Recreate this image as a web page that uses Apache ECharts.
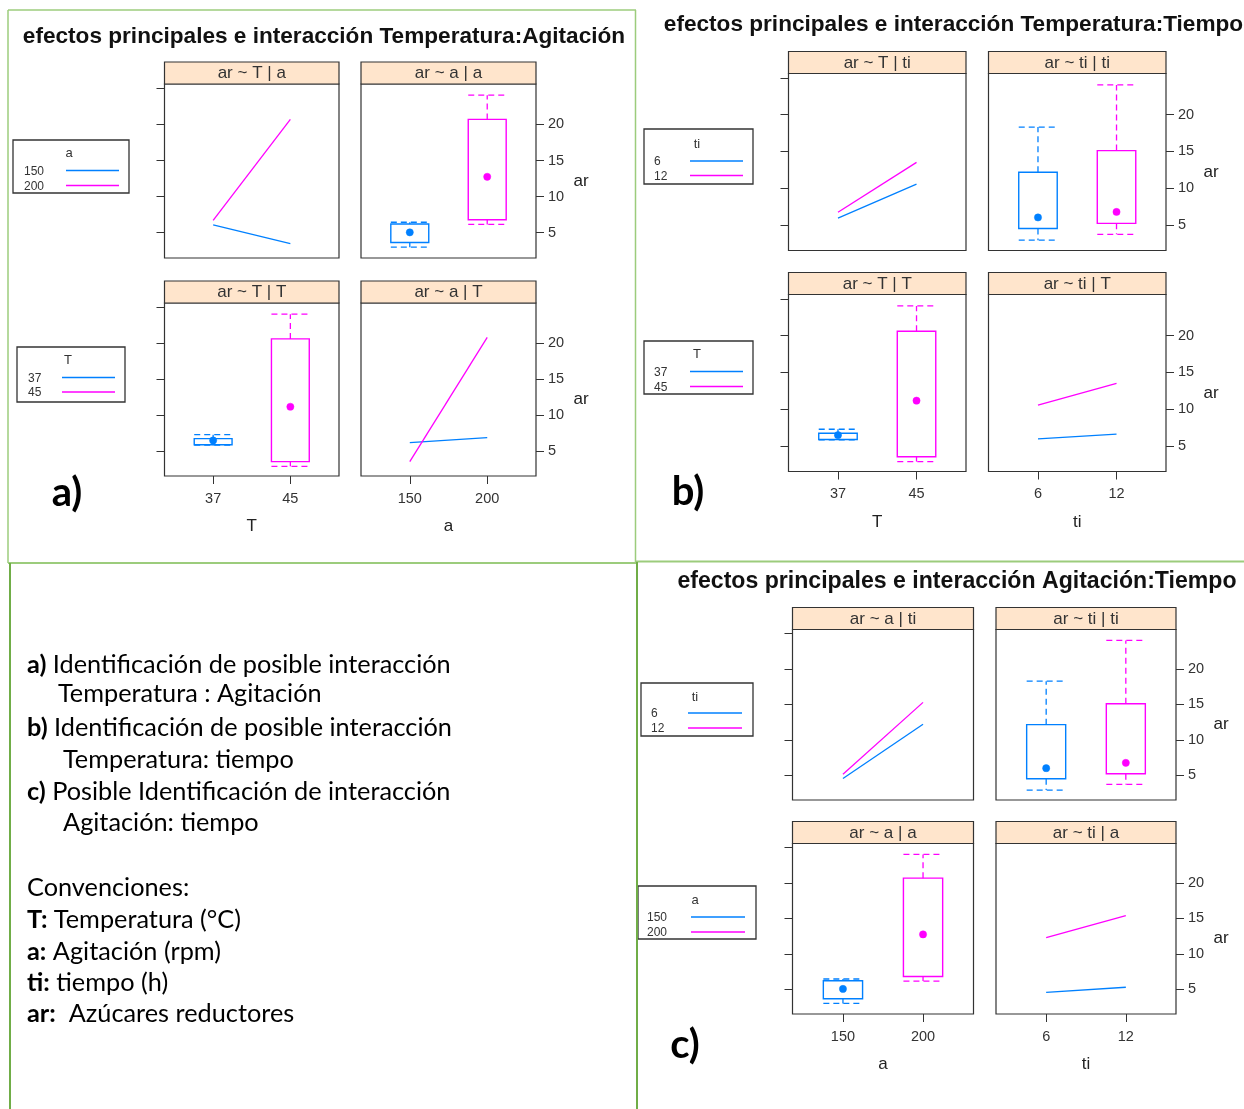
<!DOCTYPE html>
<html><head><meta charset="utf-8">
<script src="https://cdn.jsdelivr.net/npm/echarts@6/dist/echarts.min.js"></script>
<style>html,body{margin:0;padding:0;background:#fff}#c{width:1244px;height:1109px}</style>
</head><body><div id="c"></div>
<script>
// ================= DATA =================
const T_LEVELS = [37, 45];      // Temperatura (°C)
const A_LEVELS = [150, 200];    // Agitación (rpm)
const TI_LEVELS = [6, 12];      // tiempo (h)
const Y_TICKS = [5, 10, 15, 20, 25];
const Y_LABELS = [5, 10, 15, 20];
const Y_RANGE = [1.5, 25.6];

// interaction means (ar) at the two levels of the x factor
const ar_T_a150 = [6.1, 3.5];
const ar_T_a200 = [6.7, 20.7];
const ar_a_T37 = [6.15, 6.85];
const ar_a_T45 = [3.5, 20.8];
const ar_T_ti6 = [5.9, 10.55];
const ar_T_ti12 = [6.7, 13.5];
const ar_ti_T37 = [5.95, 6.6];
const ar_ti_T45 = [10.55, 13.5];
const ar_a_ti6 = [4.55, 12.2];
const ar_a_ti12 = [5.15, 15.3];
const ar_ti_a150 = [4.57, 5.28];
const ar_ti_a200 = [12.3, 15.4];

// boxplots: [lower whisker, Q1, median, Q3, upper whisker]
const box_a150 = [3.0, 3.65, 5.05, 6.2, 6.45];
const box_a200 = [6.15, 6.8, 12.75, 20.7, 24.05];
const box_T37 = [5.8, 5.85, 6.45, 6.7, 7.25];
const box_T45 = [2.85, 3.5, 11.15, 20.6, 24.05];
const box_ti6 = [2.9, 4.5, 6.0, 12.15, 18.3];
const box_ti12 = [3.7, 5.2, 6.75, 15.1, 24.05];

// ================= STYLE / LAYOUT =================
const BLUE = '#0080ff', MAGENTA = '#ff00ff';
const COLORS = [BLUE, MAGENTA];
const FRAME = '#333333';
const STRIP_FILL = '#ffe5cc';
const X_PAD = 0.63;
const BOX_FRAC = 0.49;
const AXIS_FONT = 'Liberation Sans, Arial, sans-serif';

const PANELS = [
  {strip:'ar ~ T | a',  levels:T_LEVELS,  kind:'line', data:[ar_T_a150, ar_T_a200]},
  {strip:'ar ~ a | a',  levels:A_LEVELS,  kind:'box',  data:[box_a150, box_a200]},
  {strip:'ar ~ T | T',  levels:T_LEVELS,  kind:'box',  data:[box_T37, box_T45], xname:'T'},
  {strip:'ar ~ a | T',  levels:A_LEVELS,  kind:'line', data:[ar_a_T37, ar_a_T45], xname:'a'},
  {strip:'ar ~ T | ti', levels:T_LEVELS,  kind:'line', data:[ar_T_ti6, ar_T_ti12]},
  {strip:'ar ~ ti | ti',levels:TI_LEVELS, kind:'box',  data:[box_ti6, box_ti12]},
  {strip:'ar ~ T | T',  levels:T_LEVELS,  kind:'box',  data:[box_T37, box_T45], xname:'T'},
  {strip:'ar ~ ti | T', levels:TI_LEVELS, kind:'line', data:[ar_ti_T37, ar_ti_T45], xname:'ti'},
  {strip:'ar ~ a | ti', levels:A_LEVELS,  kind:'line', data:[ar_a_ti6, ar_a_ti12]},
  {strip:'ar ~ ti | ti',levels:TI_LEVELS, kind:'box',  data:[box_ti6, box_ti12]},
  {strip:'ar ~ a | a',  levels:A_LEVELS,  kind:'box',  data:[box_a150, box_a200], xname:'a'},
  {strip:'ar ~ ti | a', levels:TI_LEVELS, kind:'line', data:[ar_ti_a150, ar_ti_a200], xname:'ti'}
];
// [left, top, width, height, side, bottomRow]
const LAYOUT = [
  [164.5, 84, 174.5, 174, 'left', false],
  [361, 84, 175, 174, 'right', false],
  [164.5, 303, 174.5, 173, 'left', true],
  [361, 303, 175, 173, 'right', true],
  [788.5, 73.5, 177.5, 177, 'left', false],
  [988.5, 73.5, 177.5, 177, 'right', false],
  [788.5, 294.5, 177.5, 177, 'left', true],
  [988.5, 294.5, 177.5, 177, 'right', true],
  [792.5, 629.5, 181, 170.5, 'left', false],
  [996, 629.5, 180, 170.5, 'right', false],
  [792.5, 843.5, 181, 170.5, 'left', true],
  [996, 843.5, 180, 170.5, 'right', true]
];

function boxRenderer(widthData) {
  return function (params, api) {
    const x = api.value(0);
    const c = v => api.coord([x, v]);
    const pLo = c(api.value(1)), pQ1 = c(api.value(2)), pMed = c(api.value(3)),
          pQ3 = c(api.value(4)), pHi = c(api.value(5));
    const half = api.size([widthData, 0])[0] / 2;
    const col = api.visual('color');
    const px = pMed[0];
    const dashed = {stroke: col, lineWidth: 1.3, lineDash: [6, 4], fill: 'none'};
    return {type: 'group', children: [
      {type: 'line', shape: {x1: px, y1: pQ3[1], x2: px, y2: pHi[1]}, style: dashed},
      {type: 'line', shape: {x1: px, y1: pQ1[1], x2: px, y2: pLo[1]}, style: dashed},
      {type: 'line', shape: {x1: px - half, y1: pHi[1], x2: px + half, y2: pHi[1]}, style: dashed},
      {type: 'line', shape: {x1: px - half, y1: pLo[1], x2: px + half, y2: pLo[1]}, style: dashed},
      {type: 'rect', shape: {x: px - half, y: pQ3[1], width: 2 * half, height: pQ1[1] - pQ3[1]},
        style: {stroke: col, lineWidth: 1.4, fill: 'none'}},
      {type: 'circle', shape: {cx: px, cy: pMed[1], r: 3.6}, style: {fill: col, stroke: col, lineWidth: 0.5}}
    ]};
  };
}

const grids = [], xAxes = [], yAxes = [], series = [], graphics = [];

function txt(x, y, text, o) {
  o = o || {};
  return {type: 'text', x: x, y: y, z: 100, silent: true, style: {
    text: text, fontSize: o.size || 14, fontFamily: o.family || AXIS_FONT,
    fontWeight: o.weight || 'normal', fill: o.color || '#222',
    align: o.align || 'center', verticalAlign: o.valign || 'middle',
    textAlign: o.align || 'center', textVerticalAlign: o.valign || 'middle',
    rich: o.rich
  }};
}
function ln(x1, y1, x2, y2, color, w) {
  return {type: 'line', z: 100, silent: true, shape: {x1, y1, x2, y2}, style: {stroke: color, lineWidth: w}};
}

PANELS.forEach((p, i) => {
  const [L, T, W, H, side, bottom] = LAYOUT[i];
  const span = p.levels[1] - p.levels[0];
  grids.push({left: L, top: T, width: W, height: H, show: true, borderColor: FRAME, borderWidth: 1.2,
    backgroundColor: '#fff', containLabel: false});
  xAxes.push({gridIndex: i, type: 'value', min: p.levels[0] - X_PAD * span, max: p.levels[1] + X_PAD * span,
    axisLine: {show: false}, splitLine: {show: false},
    axisTick: {show: bottom, customValues: p.levels, length: 8, lineStyle: {color: FRAME, width: 1}},
    axisLabel: {show: bottom, customValues: p.levels, margin: 15, fontSize: 14.5, color: '#333', fontFamily: AXIS_FONT,
      formatter: v => String(v)},
    name: bottom ? p.xname : '', nameLocation: 'middle', nameGap: 42,
    nameTextStyle: {fontSize: 17, color: '#222', fontFamily: AXIS_FONT}
  });
  yAxes.push({gridIndex: i, type: 'value', min: Y_RANGE[0], max: Y_RANGE[1], position: side,
    axisLine: {show: false}, splitLine: {show: false},
    axisTick: {show: true, customValues: side === 'left' ? Y_TICKS : Y_LABELS, length: 8, lineStyle: {color: FRAME, width: 1}},
    axisLabel: {show: side === 'right', customValues: Y_LABELS, margin: 12, fontSize: 14.5, color: '#333', fontFamily: AXIS_FONT}
  });
  if (p.kind === 'line') {
    p.data.forEach((d, k) => {
      series.push({type: 'line', xAxisIndex: i, yAxisIndex: i, symbol: 'none', silent: true,
        data: p.levels.map((x, j) => [x, d[j]]), lineStyle: {color: COLORS[k], width: 1.3}});
    });
  } else {
    p.data.forEach((d, k) => {
      series.push({type: 'custom', xAxisIndex: i, yAxisIndex: i, silent: true, itemStyle: {color: COLORS[k]},
        data: [[p.levels[k]].concat(d)], renderItem: boxRenderer(BOX_FRAC * span)});
    });
  }
  // strip
  graphics.push({type: 'rect', z: 90, silent: true, shape: {x: L, y: T - 22, width: W, height: 22},
    style: {fill: STRIP_FILL, stroke: FRAME, lineWidth: 1.2}});
  graphics.push(txt(L + W / 2, T - 10.5, p.strip, {size: 17, color: '#333'}));
  if (side === 'right') graphics.push(txt(L + W + 45, T + H / 2 + 10, 'ar', {size: 17}));
});

// legends
const LEGENDS = [
  {box: [13, 140, 116, 53], title: 'a', labels: A_LEVELS, tx: 69, ty: 153, lx: 24, rows: [171.5, 186.5], line: [66, 119]},
  {box: [17, 347, 108, 55], title: 'T', labels: T_LEVELS, tx: 68, ty: 360, lx: 28, rows: [378.5, 393], line: [62, 115]},
  {box: [644, 129, 109, 55], title: 'ti', labels: TI_LEVELS, tx: 697, ty: 144, lx: 654, rows: [162, 176.5], line: [690, 743]},
  {box: [644, 341, 109, 53], title: 'T', labels: T_LEVELS, tx: 697, ty: 354, lx: 654, rows: [372.5, 387.5], line: [690, 743]},
  {box: [641, 683, 112, 53], title: 'ti', labels: TI_LEVELS, tx: 695, ty: 697, lx: 651, rows: [714, 729], line: [688, 742]},
  {box: [638, 886, 118, 53], title: 'a', labels: A_LEVELS, tx: 695, ty: 900, lx: 647, rows: [918, 933], line: [691, 745]}
];
LEGENDS.forEach(lg => {
  const [x, y, w, h] = lg.box;
  graphics.push({type: 'rect', z: 90, silent: true, shape: {x, y, width: w, height: h},
    style: {fill: '#fff', stroke: FRAME, lineWidth: 1.3}});
  graphics.push(txt(lg.tx, lg.ty, lg.title, {size: 13, color: '#333'}));
  lg.labels.forEach((lab, k) => {
    graphics.push(txt(lg.lx, lg.rows[k], String(lab), {size: 12, color: '#333', align: 'left'}));
    graphics.push(ln(lg.line[0], lg.rows[k] - 1, lg.line[1], lg.rows[k] - 1, COLORS[k], 1.4));
  });
});

// titles
graphics.push(txt(324, 37, 'efectos principales e interacción Temperatura:Agitación', {size: 22.6, weight: 'bold', color: '#111'}));
graphics.push(txt(953.5, 25, 'efectos principales e interacción Temperatura:Tiempo', {size: 22.6, weight: 'bold', color: '#111'}));
graphics.push(txt(957, 582, 'efectos principales e interacción Agitación:Tiempo', {size: 23.1, weight: 'bold', color: '#111'}));

// panel letters
const LET = {size: 40, weight: 'bold', color: '#000', family: 'Lato, sans-serif'};
graphics.push(txt(67, 493, 'a)', LET));
graphics.push(txt(688, 492, 'b)', LET));
graphics.push(txt(685, 1045, 'c)', LET));

// green frames
const G1 = '#9ccc7c', G2 = '#70ad47';
graphics.push(ln(8, 10, 636, 10, G1, 1.5));
graphics.push(ln(8, 10, 8, 563, G1, 1.5));
graphics.push(ln(635.5, 10, 635.5, 563, G1, 1.5));
graphics.push(ln(8, 563, 636, 563, G1, 2));
graphics.push(ln(636, 561.5, 1244, 561.5, G1, 2));
graphics.push(ln(10, 563, 10, 1109, G2, 2));
graphics.push(ln(637, 562, 637, 1109, G2, 2));

// explanatory text
const RICH = {
  b: {fontFamily: 'Lato, sans-serif', fontSize: 25.3, fontWeight: 'bold', fill: '#000', color: '#000'},
  n: {fontFamily: 'Lato, sans-serif', fontSize: 25.3, fontWeight: 'normal', fill: '#000', color: '#000'}
};
const NOTE = {size: 25.3, family: 'Lato, sans-serif', color: '#000', align: 'left', rich: RICH};
const NOTES = [
  [27, 665, '{b|a)}{n| Identificación de posible interacción}'],
  [58, 694, '{n|Temperatura : Agitación}'],
  [27, 728, '{b|b)}{n| Identificación de posible interacción}'],
  [63, 760, '{n|Temperatura: tiempo}'],
  [27, 792, '{b|c)}{n| Posible Identificación de interacción}'],
  [63, 823, '{n|Agitación: tiempo}'],
  [27, 888, '{n|Convenciones:}'],
  [27, 920, '{b|T:}{n| Temperatura (°C)}'],
  [27, 952, '{b|a:}{n| Agitación (rpm)}'],
  [27, 983, '{b|ti:}{n| tiempo (h)}'],
  [27, 1014, '{b|ar:}{n|  Azúcares reductores}']
];
NOTES.forEach(n => graphics.push(txt(n[0], n[1], n[2], NOTE)));

const chart = echarts.init(document.getElementById('c'), null, {renderer: 'canvas'});
chart.setOption({
  animation: false,
  backgroundColor: '#fff',
  grid: grids, xAxis: xAxes, yAxis: yAxes, series: series,
  graphic: {elements: graphics}
});
</script></body></html>
